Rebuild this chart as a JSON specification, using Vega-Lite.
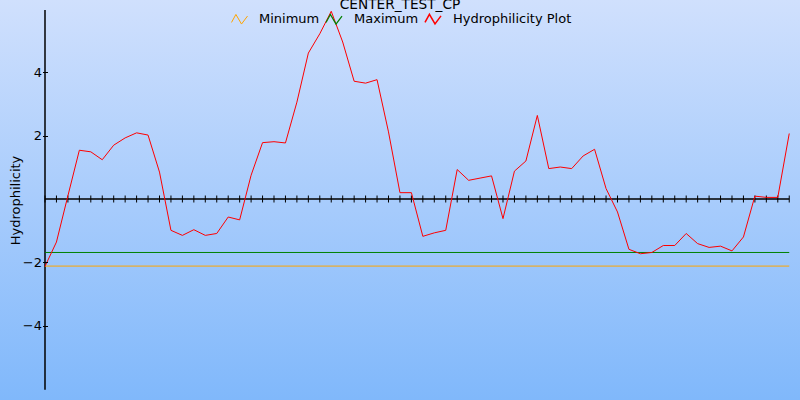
{
  "$schema": "https://vega.github.io/schema/vega-lite/v6.json",
  "width": 800,
  "height": 400,
  "autosize": "none",
  "padding": 0,
  "config": {"font": "DejaVu Sans", "view": {"stroke": null}},
  "title": {"text": "CENTER_TEST_CP", "fontSize": 13.7, "fontWeight": "normal", "color": "black", "anchor": "middle", "offset": -23, "baseline": "alphabetic", "font": "DejaVu Sans", "zindex": 1},
  "data": {"values": [
    {"pos": 0, "value": -2.12, "series": "Minimum"},
    {"pos": 65, "value": -2.12, "series": "Minimum"},
    {"pos": 0, "value": -1.69, "series": "Maximum"},
    {"pos": 65, "value": -1.69, "series": "Maximum"},
    {"pos": 0, "value": -2.13, "series": "Hydrophilicity Plot"},
    {"pos": 1, "value": -1.36, "series": "Hydrophilicity Plot"},
    {"pos": 2, "value": 0.1, "series": "Hydrophilicity Plot"},
    {"pos": 3, "value": 1.54, "series": "Hydrophilicity Plot"},
    {"pos": 4, "value": 1.49, "series": "Hydrophilicity Plot"},
    {"pos": 5, "value": 1.24, "series": "Hydrophilicity Plot"},
    {"pos": 6, "value": 1.70, "series": "Hydrophilicity Plot"},
    {"pos": 7, "value": 1.93, "series": "Hydrophilicity Plot"},
    {"pos": 8, "value": 2.09, "series": "Hydrophilicity Plot"},
    {"pos": 9, "value": 2.02, "series": "Hydrophilicity Plot"},
    {"pos": 10, "value": 0.85, "series": "Hydrophilicity Plot"},
    {"pos": 11, "value": -0.99, "series": "Hydrophilicity Plot"},
    {"pos": 12, "value": -1.15, "series": "Hydrophilicity Plot"},
    {"pos": 13, "value": -0.97, "series": "Hydrophilicity Plot"},
    {"pos": 14, "value": -1.15, "series": "Hydrophilicity Plot"},
    {"pos": 15, "value": -1.09, "series": "Hydrophilicity Plot"},
    {"pos": 16, "value": -0.57, "series": "Hydrophilicity Plot"},
    {"pos": 17, "value": -0.66, "series": "Hydrophilicity Plot"},
    {"pos": 18, "value": 0.75, "series": "Hydrophilicity Plot"},
    {"pos": 19, "value": 1.78, "series": "Hydrophilicity Plot"},
    {"pos": 20, "value": 1.81, "series": "Hydrophilicity Plot"},
    {"pos": 21, "value": 1.77, "series": "Hydrophilicity Plot"},
    {"pos": 22, "value": 3.06, "series": "Hydrophilicity Plot"},
    {"pos": 23, "value": 4.61, "series": "Hydrophilicity Plot"},
    {"pos": 24, "value": 5.22, "series": "Hydrophilicity Plot"},
    {"pos": 25, "value": 5.93, "series": "Hydrophilicity Plot"},
    {"pos": 26, "value": 4.96, "series": "Hydrophilicity Plot"},
    {"pos": 27, "value": 3.72, "series": "Hydrophilicity Plot"},
    {"pos": 28, "value": 3.66, "series": "Hydrophilicity Plot"},
    {"pos": 29, "value": 3.77, "series": "Hydrophilicity Plot"},
    {"pos": 30, "value": 2.12, "series": "Hydrophilicity Plot"},
    {"pos": 31, "value": 0.20, "series": "Hydrophilicity Plot"},
    {"pos": 32, "value": 0.20, "series": "Hydrophilicity Plot"},
    {"pos": 33, "value": -1.18, "series": "Hydrophilicity Plot"},
    {"pos": 34, "value": -1.07, "series": "Hydrophilicity Plot"},
    {"pos": 35, "value": -0.99, "series": "Hydrophilicity Plot"},
    {"pos": 36, "value": 0.93, "series": "Hydrophilicity Plot"},
    {"pos": 37, "value": 0.59, "series": "Hydrophilicity Plot"},
    {"pos": 38, "value": 0.66, "series": "Hydrophilicity Plot"},
    {"pos": 39, "value": 0.73, "series": "Hydrophilicity Plot"},
    {"pos": 40, "value": -0.62, "series": "Hydrophilicity Plot"},
    {"pos": 41, "value": 0.88, "series": "Hydrophilicity Plot"},
    {"pos": 42, "value": 1.20, "series": "Hydrophilicity Plot"},
    {"pos": 43, "value": 2.64, "series": "Hydrophilicity Plot"},
    {"pos": 44, "value": 0.96, "series": "Hydrophilicity Plot"},
    {"pos": 45, "value": 1.01, "series": "Hydrophilicity Plot"},
    {"pos": 46, "value": 0.96, "series": "Hydrophilicity Plot"},
    {"pos": 47, "value": 1.36, "series": "Hydrophilicity Plot"},
    {"pos": 48, "value": 1.57, "series": "Hydrophilicity Plot"},
    {"pos": 49, "value": 0.33, "series": "Hydrophilicity Plot"},
    {"pos": 50, "value": -0.41, "series": "Hydrophilicity Plot"},
    {"pos": 51, "value": -1.59, "series": "Hydrophilicity Plot"},
    {"pos": 52, "value": -1.73, "series": "Hydrophilicity Plot"},
    {"pos": 53, "value": -1.69, "series": "Hydrophilicity Plot"},
    {"pos": 54, "value": -1.47, "series": "Hydrophilicity Plot"},
    {"pos": 55, "value": -1.47, "series": "Hydrophilicity Plot"},
    {"pos": 56, "value": -1.09, "series": "Hydrophilicity Plot"},
    {"pos": 57, "value": -1.41, "series": "Hydrophilicity Plot"},
    {"pos": 58, "value": -1.53, "series": "Hydrophilicity Plot"},
    {"pos": 59, "value": -1.49, "series": "Hydrophilicity Plot"},
    {"pos": 60, "value": -1.64, "series": "Hydrophilicity Plot"},
    {"pos": 61, "value": -1.20, "series": "Hydrophilicity Plot"},
    {"pos": 62, "value": 0.09, "series": "Hydrophilicity Plot"},
    {"pos": 63, "value": 0.05, "series": "Hydrophilicity Plot"},
    {"pos": 64, "value": 0.05, "series": "Hydrophilicity Plot"},
    {"pos": 65, "value": 2.07, "series": "Hydrophilicity Plot"}
  ]},
  "layer": [
    {
      "data": {"values": [{}]},
      "mark": {"type": "rect", "opacity": 1, "fill": {"gradient": "linear", "x1": 0, "y1": 0, "x2": 0, "y2": 1, "stops": [{"offset": 0, "color": "#d0e0fd"}, {"offset": 1, "color": "#80b8fb"}]}},
      "encoding": {}
    },
    {
      "data": {"values": [{}]},
      "mark": {"type": "rule", "color": "black", "strokeWidth": 1.5},
      "encoding": {
        "x": {"datum": 0, "type": "quantitative", "scale": {"domain": [-3.93, 65.94], "nice": false, "zero": false}, "axis": null},
        "x2": {"datum": 65},
        "y": {"datum": 0, "type": "quantitative", "scale": {"domain": [-6.351, 6.287], "nice": false, "zero": false}}
      }
    },
    {
      "data": {"values": [{}]},
      "mark": {"type": "rule", "color": "black", "strokeWidth": 1.5},
      "encoding": {
        "x": {"datum": 0, "type": "quantitative", "scale": {"domain": [-3.93, 65.94], "nice": false, "zero": false}, "axis": null},
        "y": {"datum": 5.97, "type": "quantitative", "scale": {"domain": [-6.351, 6.287], "nice": false, "zero": false}},
        "y2": {"datum": -6.03}
      }
    },
    {
      "transform": [{"filter": "datum.series === 'Hydrophilicity Plot'"}],
      "mark": {"type": "tick", "orient": "vertical", "color": "black", "size": 7, "thickness": 1, "opacity": 1},
      "encoding": {
        "x": {"field": "pos", "type": "quantitative", "scale": {"domain": [-3.93, 65.94], "nice": false, "zero": false}, "axis": null},
        "y": {"datum": 0, "type": "quantitative", "scale": {"domain": [-6.351, 6.287], "nice": false, "zero": false}}
      }
    },
    {
      "mark": {"type": "line", "strokeWidth": 1},
      "encoding": {
        "x": {"field": "pos", "type": "quantitative", "scale": {"domain": [-3.93, 65.94], "nice": false, "zero": false}, "axis": null},
        "y": {"field": "value", "type": "quantitative", "scale": {"domain": [-6.351, 6.287], "nice": false, "zero": false},
          "axis": {"values": [-4, -2, 2, 4], "offset": -47.5, "zindex": 1, "domain": false, "grid": false, "tickSize": 5, "tickColor": "black", "tickWidth": 1, "labelPadding": 1, "labelFontSize": 13, "labelColor": "black", "labelFont": "DejaVu Sans", "title": "Hydrophilicity", "titleFontSize": 13, "titleFontWeight": "normal", "titleColor": "black", "titlePadding": 0, "titleFont": "DejaVu Sans"}},
        "color": {"field": "series", "type": "nominal", "sort": null,
          "scale": {"domain": ["Minimum", "Maximum", "Hydrophilicity Plot"], "range": ["#ffa500", "#008000", "#ff0000"]},
          "legend": {"title": null, "orient": "none", "legendX": 231, "legendY": 10, "zindex": 1, "direction": "horizontal", "padding": 0, "symbolType": "M-1,0.4L-0.45,-0.6L0.25,0.6L1,-0.4", "symbolSize": 256, "symbolStrokeWidth": 1, "symbolFillColor": "transparent", "labelFontSize": 13, "labelFont": "DejaVu Sans", "labelColor": "black", "labelOffset": 11, "columnPadding": 3}},
        "strokeWidth": {"field": "series", "type": "nominal", "scale": {"domain": ["Minimum", "Maximum", "Hydrophilicity Plot"], "range": [1, 1.5, 1]}, "legend": null}
      }
    }
  ]
}
